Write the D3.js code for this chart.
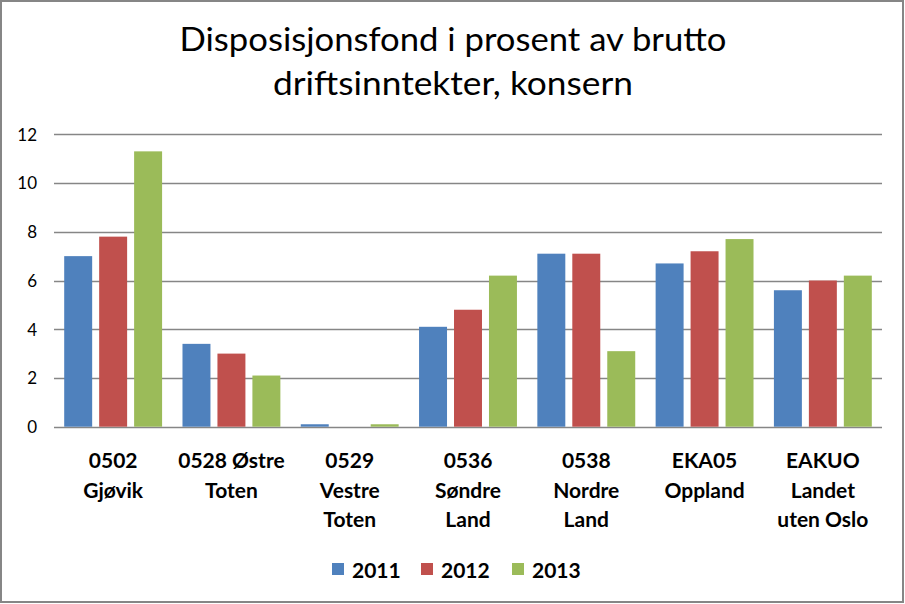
<!DOCTYPE html>
<html><head><meta charset="utf-8">
<script src="https://cdn.jsdelivr.net/npm/d3@7"></script>
<style>body{margin:0;background:#fff}svg{display:block}</style>
</head><body>
<svg id="c" width="905" height="604"></svg>
<script>
const categories = [["0502","Gjøvik"],["0528 Østre","Toten"],["0529","Vestre","Toten"],["0536","Søndre","Land"],["0538","Nordre","Land"],["EKA05","Oppland"],["EAKUO","Landet","uten Oslo"]];
const seriesNames = ["2011","2012","2013"];
const v2011 = [7.0, 3.4, 0.1, 4.1, 7.1, 6.7, 5.6];
const v2012 = [7.8, 3.0, 0.0, 4.8, 7.1, 7.2, 6.0];
const v2013 = [11.3, 2.1, 0.1, 6.2, 3.1, 7.7, 6.2];
const yTicks = [0,2,4,6,8,10,12];
const titleLines = ["Disposisjonsfond i prosent av brutto","driftsinntekter, konsern"];
const colors = ["#4F81BD","#C0504D","#9BBB59"];
const values = [v2011, v2012, v2013];

const svg = d3.select("#c");
const font = "Lato, 'Open Sans', sans-serif";
svg.append("rect").attr("x",1).attr("y",1).attr("width",902).attr("height",601)
  .attr("fill","#fff").attr("stroke","#868686").attr("stroke-width",2);

const plot = {left:54, right:882, top:134.3, bottom:426.7};
const x = d3.scaleBand().domain(d3.range(categories.length)).range([plot.left, plot.right]);
const xs = d3.scaleBand().domain(d3.range(3)).range([10.2, x.bandwidth()-10.2]).paddingInner(0.2);
const y = d3.scaleLinear().domain([0,12]).range([plot.bottom, plot.top]);

// grid
svg.append("g").selectAll("line").data(yTicks).join("line")
  .attr("x1",plot.left).attr("x2",plot.right)
  .attr("y1",d=>Math.round(y(d))+0.5).attr("y2",d=>Math.round(y(d))+0.5)
  .attr("stroke","#868686").attr("stroke-width",1.5);

const ya = d3.axisLeft(y).tickValues(yTicks).tickSize(0).tickPadding(0);
const yg = svg.append("g").attr("transform",`translate(37,0)`).call(ya);
yg.select(".domain").remove();
yg.selectAll("text").attr("font-family",font).attr("font-size",17).attr("fill","#000").attr("dy","0.35em");

// bars
const groups = svg.append("g").selectAll("g").data(categories).join("g")
  .attr("transform",(d,i)=>`translate(${x(i)},0)`);
groups.selectAll("rect").data((d,i)=>values.map((s,k)=>({k, v:s[i]}))).join("rect")
  .attr("x",d=>xs(d.k)).attr("width",xs.bandwidth())
  .attr("y",d=>y(d.v)).attr("height",d=>y(0)-y(d.v))
  .attr("fill",d=>colors[d.k]);

// x labels
const xl = svg.append("g").selectAll("text").data(categories).join("text")
  .attr("x",(d,i)=>x(i)+x.bandwidth()/2).attr("y",468)
  .attr("text-anchor","middle").attr("font-family",font).attr("font-weight","bold")
  .attr("font-size",21).attr("fill","#000");
xl.selectAll("tspan").data(d=>d).join("tspan")
  .attr("x",function(){return this.parentNode.getAttribute("x");})
  .attr("dy",(d,j)=>j===0?0:29.5).text(d=>d);

// title
const titleW = [547, 360];
svg.append("g").selectAll("text").data(titleLines).join("text")
  .attr("x",453).attr("y",(d,i)=>51+i*44).attr("text-anchor","middle")
  .attr("font-family",font).attr("font-size",33).attr("fill","#000")
  .attr("textLength",(d,i)=>titleW[i]).attr("lengthAdjust","spacingAndGlyphs").text(d=>d);

// legend
const legX = [332, 421, 512];
const lg = svg.append("g").selectAll("g").data(seriesNames).join("g")
  .attr("transform",(d,i)=>`translate(${legX[i]},0)`);
lg.append("rect").attr("x",0).attr("y",563).attr("width",12).attr("height",12).attr("fill",(d,i)=>colors[i]);
lg.append("text").attr("x",20).attr("y",578).attr("font-family",font).attr("font-weight","bold")
  .attr("font-size",21).attr("fill","#000").text(d=>d);
</script>
</body></html>
